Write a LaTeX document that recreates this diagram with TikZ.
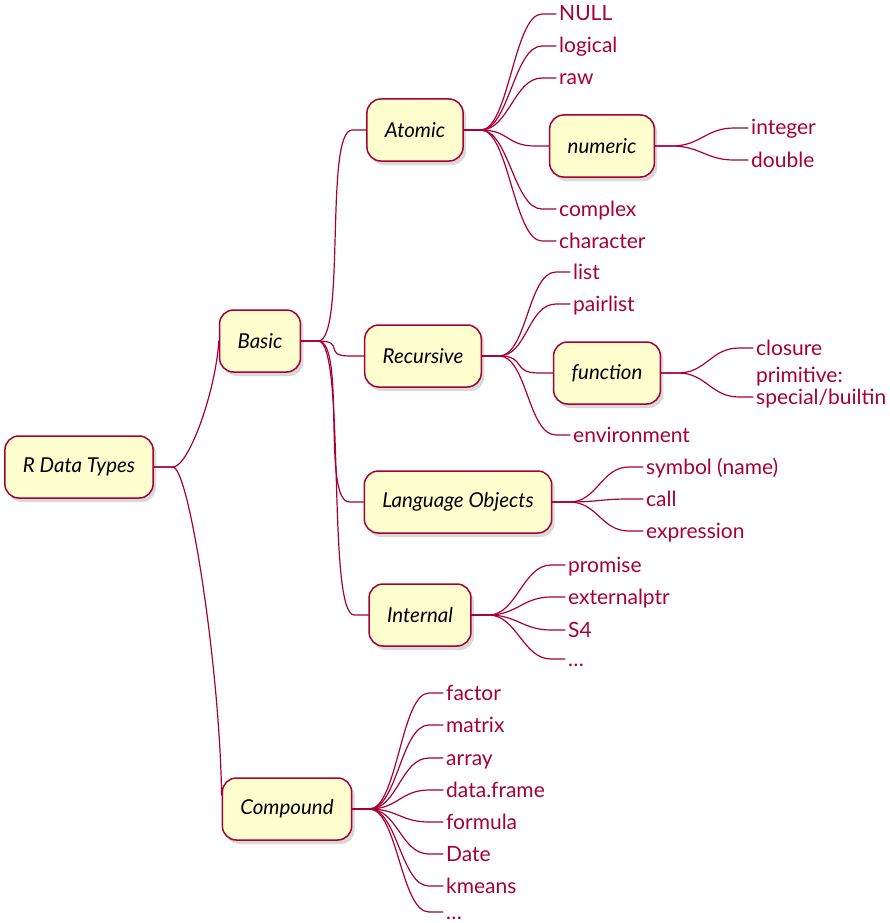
\documentclass[tikz,border=0pt]{standalone}
\usepackage{fontspec}
\setmainfont{Lato}
\usetikzlibrary{shadows}

\definecolor{rosered}{HTML}{A80036}
\definecolor{roseyellow}{HTML}{FEFECE}

\tikzset{
  topic/.style={draw=rosered,fill=roseyellow,line width=1.5pt,rounded corners=14pt,
    minimum height=62pt,inner xsep=18pt,font=\fontsize{20.5}{23}\selectfont\itshape,
    drop shadow={shadow xshift=3pt,shadow yshift=-4pt,opacity=0.3}},
  leaf/.style={anchor=west,text=rosered,inner xsep=3pt,inner ysep=0pt,
    text height=16pt,text depth=2pt,font=\fontsize{21}{22}\selectfont},
  link/.style={draw=rosered,line width=1.2pt}
}

% parent -> child: short stub, s-curve, short stub
\newcommand{\branch}[3][28]{%
  \draw[link] (#2.east) -- ++(17,0) .. controls +(#1,0) and +(-#1,0)
    .. ([xshift=-14pt]#3.west) -- (#3.west);}

\begin{document}
\begin{tikzpicture}[x=1pt,y=-1pt,line join=round,line cap=round]
  \useasboundingbox (0,0) rectangle (889,923);

  % ---- topics ------------------------------------------------------------
  \node[topic] (root)     at (79,467)  {R Data Types};
  \node[topic] (basic)    at (260,341) {Basic};
  \node[topic] (compound) at (287,809) {Compound};
  \node[topic] (atomic)   at (415,130) {Atomic};
  \node[topic] (numeric)  at (602,146) {numeric};
  \node[topic] (recursive) at (423,356) {Recursive};
  \node[topic] (function) at (607,373) {function};
  \node[topic] (language) at (458,502) {Language Objects};
  \node[topic] (internal) at (420,615) {Internal};

  % root branches come in steep, no end stub
  \draw[link] (root.east) -- ++(19,0) .. controls +(16,0) and +(-3,50) .. (basic.west);
  \draw[link] (root.east) -- ++(19,0) .. controls +(16,0) and +(-2,-130)
    .. ([yshift=14pt]compound.west);
  \branch{basic}{atomic}
  \branch{basic}{recursive}
  \branch{basic}{language}
  \branch{basic}{internal}
  \branch{atomic}{numeric}
  \branch{recursive}{function}

  % ---- leaves ------------------------------------------------------------
  \foreach \t/\y [count=\i] in {NULL/14,logical/46,raw/78,complex/209,character/241}{
    \node[leaf] (atom\i) at (556,\y) {\t};
    \branch{atomic}{atom\i}
  }
  \foreach \t/\y [count=\i] in {integer/128,double/160}{
    \node[leaf] (num\i) at (748,\y) {\t};
    \branch{numeric}{num\i}
  }
  \foreach \t/\y [count=\i] in {list/272,pairlist/304,environment/435}{
    \node[leaf] (rec\i) at (570,\y) {\t};
    \branch{recursive}{rec\i}
  }
  \node[leaf] (closure) at (753,348) {closure};
  \node[leaf,align=left] (prim) at (753,397) {primitive:\\special/builtin};
  \branch{function}{closure}
  \branch{function}{prim}
  \foreach \t/\y [count=\i] in {symbol (name)/467,call/499,expression/531}{
    \node[leaf] (lang\i) at (643,\y) {\t};
    \branch{language}{lang\i}
  }
  \foreach \t/\y [count=\i] in {promise/565,externalptr/597,S4/630,\ldots/659}{
    \node[leaf] (int\i) at (565,\y) {\t};
    \branch{internal}{int\i}
  }
  \foreach \t/\y [count=\i] in {factor/693,matrix/725,array/758,data.frame/790,
      formula/822,Date/854,kmeans/886,\ldots/912}{
    \node[leaf] (comp\i) at (443,\y) {\t};
    \branch{compound}{comp\i}
  }
\end{tikzpicture}
\end{document}
